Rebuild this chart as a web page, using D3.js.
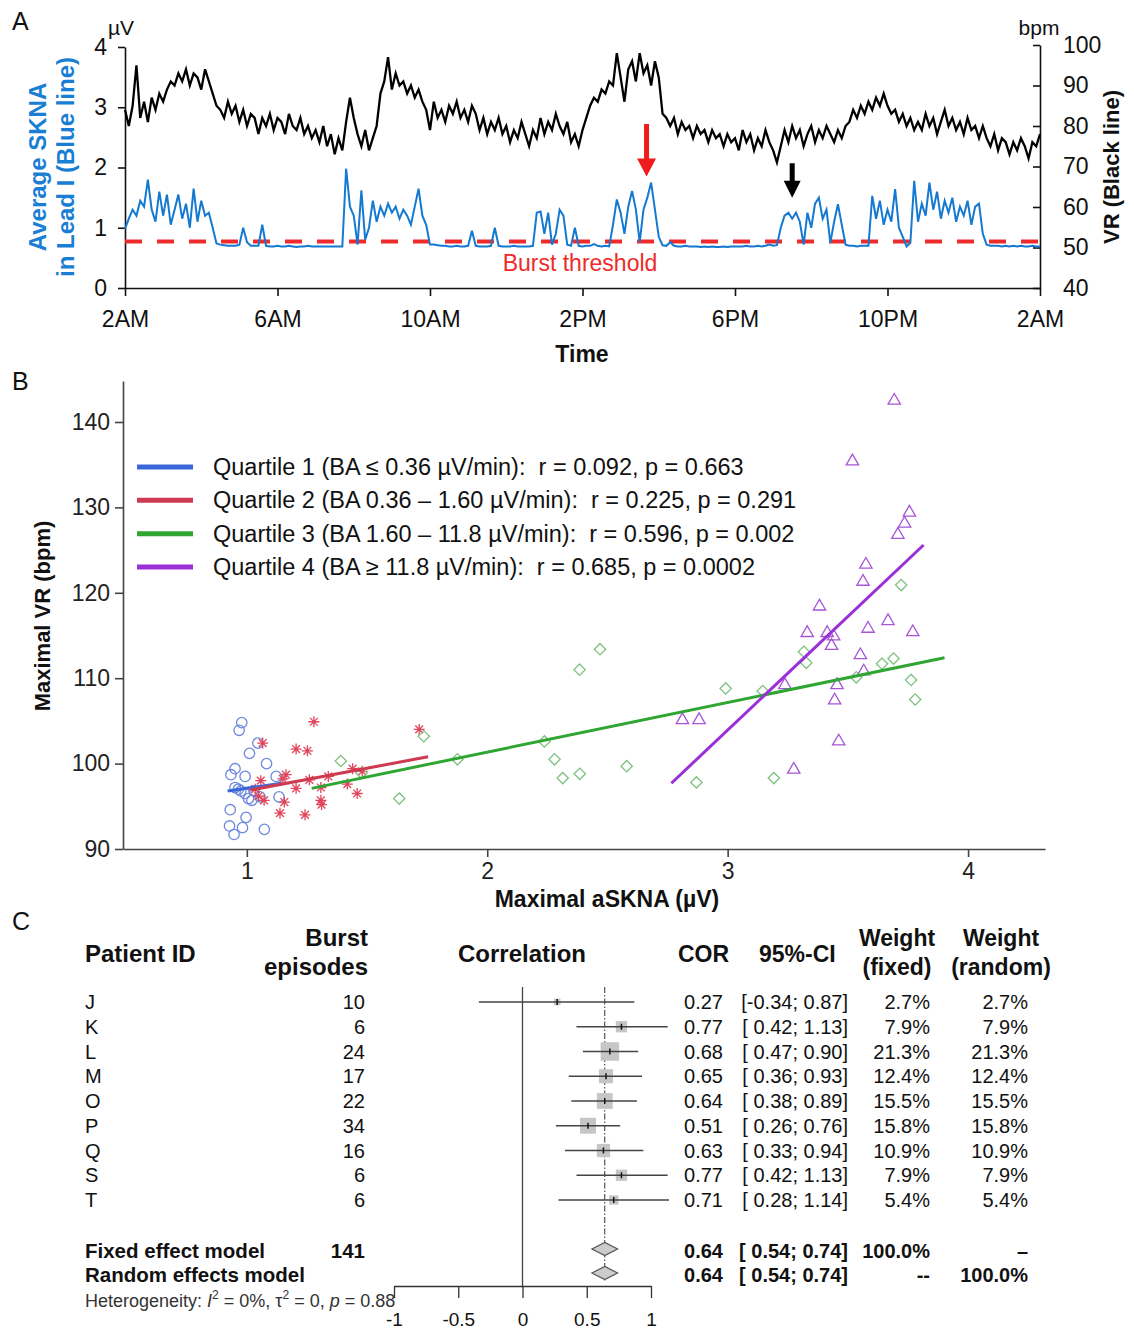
<!DOCTYPE html>
<html>
<head>
<meta charset="utf-8">
<script src="https://cdn.jsdelivr.net/npm/d3@7"></script>
<style>
body { margin: 0; background: #fff; }
svg { font-family: "Liberation Sans", Arial, sans-serif; }
.ax path, .ax line { stroke: #111; stroke-width: 1.6; fill: none; }
.ax text { fill: #111; font-size: 23px; }
.axb path, .axb line { stroke: #444; stroke-width: 1.6; fill: none; }
.axb text { fill: #222; font-size: 23px; }
.axc path, .axc line { stroke: #333; stroke-width: 1.3; fill: none; }
.axc text { fill: #111; font-size: 19px; }
</style>
</head>
<body>
<svg id="fig" width="1134" height="1335"></svg>
<script>
// ---------------- Panel A data (one reading every 6 min, 2AM -> 2AM) ----------------
var sampleStepHours = 0.1;
var timeTicks = [0, 4, 8, 12, 16, 20, 24];
var timeLabels = ["2AM", "6AM", "10AM", "2PM", "6PM", "10PM", "2AM"];
var burstThreshold = 0.77;

// ventricular rate, bpm (black line), one row per hour
var vrBpm = [
  84,80,85,95,82,86,81,87,84,88,
  86,89,91,90,93,91,94,90,93,92,
  89,94,91,88,85,84,82,86,83,85,
  81,84,80,83,82,78,82,80,83,79,
  82,81,78,83,80,79,82,78,80,77,
  79,76,80,75,78,73,77,74,81,87,
  82,78,75,79,74,77,80,88,91,97,
  89,93,90,91,88,90,87,89,86,84,
  79,86,82,84,81,85,83,86,82,84,
  81,85,83,79,82,78,81,79,82,78,
  80,76,79,77,81,78,75,79,77,82,
  78,81,79,83,80,78,81,76,78,75,
  79,82,85,87,86,89,88,91,90,98,
  92,86,94,96,91,98,93,95,90,96,
  92,83,82,80,82,78,81,79,80,77,
  80,78,79,76,79,77,78,75,78,76,
  77,74,79,76,78,74,77,75,79,76,
  74,71,75,79,76,80,77,79,75,78,
  80,76,79,77,80,78,76,79,77,80,
  81,84,82,85,83,86,84,87,85,88,
  85,83,84,81,83,80,82,79,81,79,
  83,80,82,78,81,84,80,82,79,81,
  78,82,79,80,77,80,77,75,78,74,
  77,76,73,76,74,77,75,72,76,75,
  78
];

// average SKNA in lead I, µV (blue line), one row per hour
var sknaUv = [
  0.98,1.15,1.30,1.20,1.45,1.35,1.80,1.30,1.10,1.60,
  1.20,1.55,1.05,1.30,1.55,1.15,1.40,1.00,1.65,1.10,
  1.45,1.20,1.25,1.00,0.74,0.72,0.71,0.70,0.70,0.70,
  0.72,1.00,0.76,0.70,0.70,0.70,1.05,0.70,0.69,0.69,
  0.70,0.69,0.69,0.70,0.69,0.68,0.69,0.69,0.70,0.69,
  0.69,0.69,0.69,0.69,0.69,0.69,0.69,0.69,1.98,1.35,
  1.20,0.72,1.62,0.80,1.00,1.45,1.10,1.35,1.20,1.40,
  1.25,1.35,1.15,1.30,1.20,1.05,1.35,1.65,1.20,1.05,
  0.72,0.72,0.71,0.70,0.70,0.69,0.69,0.70,0.69,0.69,
  0.70,0.95,0.70,0.69,0.69,0.69,0.70,1.00,0.70,0.69,
  0.69,0.69,0.70,0.69,0.69,0.69,0.69,0.70,1.25,1.27,
  0.90,1.25,0.72,0.90,1.30,1.20,0.72,0.70,1.00,0.70,
  0.69,0.70,0.70,0.73,0.70,0.69,0.70,0.69,1.05,1.47,
  1.25,0.90,1.35,1.61,1.30,0.76,1.30,1.50,1.75,1.30,
  0.85,0.71,0.70,0.76,0.70,0.69,0.69,0.70,0.69,0.69,
  0.69,0.68,0.69,0.68,0.69,0.68,0.68,0.69,0.68,0.69,
  0.69,0.69,0.69,0.70,0.69,0.69,0.70,0.69,0.70,0.72,
  0.70,0.71,1.00,1.20,1.25,1.15,1.25,1.10,0.72,1.25,
  1.00,1.40,1.50,1.15,1.30,0.75,1.10,1.39,1.05,0.72,
  0.70,0.70,0.69,0.70,0.70,0.70,1.53,1.15,1.45,1.05,
  1.30,1.10,1.64,1.00,0.85,0.69,0.75,1.78,1.10,1.40,
  1.20,1.75,1.30,1.60,1.15,1.45,1.25,1.50,1.10,1.35,
  1.20,1.45,1.05,1.35,1.40,0.90,0.72,0.70,0.70,0.70,
  0.69,0.70,0.69,0.70,0.69,0.70,0.69,0.69,0.70,0.69,
  0.69
];

// arrows: [hour, top µV, tip µV]
var redArrow = [13.68, 2.72, 1.85];
var blackArrow = [17.5, 2.07, 1.50];

// ---------------- Panel B data ----------------
var quartileLabels = [
  "Quartile 1 (BA \u2264 0.36 \u00b5V/min):  r = 0.092, p = 0.663",
  "Quartile 2 (BA 0.36 \u2013 1.60 \u00b5V/min):  r = 0.225, p = 0.291",
  "Quartile 3 (BA 1.60 \u2013 11.8 \u00b5V/min):  r = 0.596, p = 0.002",
  "Quartile 4 (BA \u2265 11.8 \u00b5V/min):  r = 0.685, p = 0.0002"
];
var lineColors = ["#3a68d8", "#cf3a50", "#2fa532", "#9b2fd8"];
var markColors = ["#6d89de", "#e0455c", "#7fc17f", "#a655d6"];

var q1Points = [[0.979,104.8],[0.968,103.9],[1.046,102.4],[1.011,101.2],[1.082,100.0],[0.951,99.4],
  [0.934,98.7],[0.993,98.5],[1.122,98.5],[0.951,97.2],[0.965,97.0],[0.993,96.5],[1.007,95.9],
  [1.021,95.7],[1.055,96.1],[1.134,96.1],[0.931,94.6],[0.997,93.7],[0.928,92.7],[0.982,92.5],
  [0.947,91.7],[1.073,92.3],[0.975,96.8],[1.030,96.8]];
var q2Points = [[1.279,104.9],[1.066,102.4],[1.205,101.7],[1.252,101.5],[1.163,98.7],[1.058,98.0],
  [1.150,98.2],[1.260,98.1],[1.205,97.1],[1.072,95.7],[1.156,95.5],[1.308,95.7],[1.311,95.2],
  [1.138,94.2],[1.242,94.0],[1.418,97.6],[1.459,96.5],[1.339,98.5],[1.440,99.4],[1.480,99.1],
  [1.717,104.0],[1.035,97.0],[1.049,96.2],[1.308,97.2]];
var q3Points = [[1.391,100.3],[1.477,98.9],[1.634,95.9],[1.736,103.2],[1.876,100.5],[2.238,102.6],
  [2.280,100.5],[2.314,98.3],[2.385,98.8],[2.384,111.0],[2.469,113.4],[2.580,99.7],[2.870,97.8],
  [2.992,108.8],[3.146,108.5],[3.192,98.3],[3.317,113.1],[3.327,111.8],[3.535,110.1],[3.642,111.7],
  [3.690,112.3],[3.722,120.9],[3.763,109.8],[3.780,107.5]];
var q4Points = [[3.693,142.5],[3.519,135.4],[3.756,129.4],[3.736,128.1],[3.708,126.8],[3.575,123.3],
  [3.563,121.3],[3.382,118.4],[3.584,115.8],[3.667,116.7],[3.770,115.4],[3.331,115.3],[3.414,115.3],
  [3.441,114.9],[3.432,113.8],[3.552,112.7],[3.566,110.8],[3.238,109.2],[3.455,109.2],[3.445,107.4],
  [2.812,105.1],[2.881,105.1],[3.462,102.6],[3.275,99.3]];
// regression segments [[x0,y0],[x1,y1]]
var fitLines = [
  [[0.92,96.8],[1.145,97.7]],
  [[1.014,96.9],[1.754,100.8]],
  [[1.270,97.1],[3.902,112.4]],
  [[2.766,97.7],[3.815,125.6]]
];

// ---------------- Panel C data ----------------
var patients = ["J","K","L","M","O","P","Q","S","T"];
var episodes = [10,6,24,17,22,34,16,6,6];
var cor = [0.27,0.77,0.68,0.65,0.64,0.51,0.63,0.77,0.71];
var ciLow = [-0.34,0.42,0.47,0.36,0.38,0.26,0.33,0.42,0.28];
var ciHigh = [0.87,1.13,0.90,0.93,0.89,0.76,0.94,1.13,1.14];
var weightFixed = [2.7,7.9,21.3,12.4,15.5,15.8,10.9,7.9,5.4];
var weightRandom = [2.7,7.9,21.3,12.4,15.5,15.8,10.9,7.9,5.4];
var pooledCor = 0.64, pooledLow = 0.54, pooledHigh = 0.74;
var corTicks = [-1, -0.5, 0, 0.5, 1];
var corTickLabels = ["-1", "-0.5", "0", "0.5", "1"];

var svg = d3.select("#fig");
svg.append("rect").attr("width", 1134).attr("height", 1335).attr("fill", "#fff");

function label(g, x, y, txt, size, opts) {
  opts = opts || {};
  return g.append("text").attr("x", x).attr("y", y).text(txt)
    .attr("font-size", size)
    .attr("font-weight", opts.bold ? "bold" : null)
    .attr("text-anchor", opts.anchor || "start")
    .attr("fill", opts.color || "#111")
    .style("white-space", "pre");
}
function styleAxis(g) {
  g.attr("font-size", null).attr("font-family", null);
}

// ================= Panel A =================
var xA = d3.scaleLinear().domain([0, 24]).range([125, 1040]);
var yA = d3.scaleLinear().domain([0, 4]).range([288, 47]);
var yA2 = d3.scaleLinear().domain([40, 100]).range([288, 45]);
var gA = svg.append("g");

gA.append("g").attr("class", "ax").attr("transform", "translate(0,288)")
  .call(d3.axisBottom(xA).tickValues(timeTicks).tickFormat(function(d, i) { return timeLabels[i]; })
    .tickSize(8).tickPadding(15).tickSizeOuter(0))
  .call(styleAxis);
gA.append("g").attr("class", "ax").attr("transform", "translate(125,0)")
  .call(d3.axisLeft(yA).tickValues([0,1,2,3,4]).tickFormat(d3.format("d")).tickSize(7).tickPadding(11).tickSizeOuter(0))
  .call(styleAxis);
gA.append("g").attr("class", "ax").attr("transform", "translate(1040,0)")
  .call(d3.axisRight(yA2).tickValues([40,50,60,70,80,90,100]).tickSizeInner(-7).tickSizeOuter(0).tickPadding(23))
  .call(styleAxis);

// burst threshold
gA.append("line")
  .attr("x1", xA(0)).attr("x2", xA(24))
  .attr("y1", yA(burstThreshold)).attr("y2", yA(burstThreshold))
  .attr("stroke", "#ee2a2a").attr("stroke-width", 4).attr("stroke-dasharray", "17,15");

gA.append("path").datum(vrBpm)
  .attr("fill", "none").attr("stroke", "#000").attr("stroke-width", 2.3).attr("stroke-linejoin", "miter")
  .attr("d", d3.line().x(function(d, i) { return xA(i * sampleStepHours); }).y(function(d) { return yA2(d); }));

gA.append("path").datum(sknaUv)
  .attr("fill", "none").attr("stroke", "#1479d0").attr("stroke-width", 2)
  .attr("d", d3.line().x(function(d, i) { return xA(i * sampleStepHours); }).y(function(d) { return yA(d); }));

function arrow(a, color, shaftW, headW, headL) {
  var x = xA(a[0]), y0 = yA(a[1]), y1 = yA(a[2]);
  var yh = y1 - headL;
  var p = d3.path();
  p.moveTo(x - shaftW / 2, y0); p.lineTo(x + shaftW / 2, y0); p.lineTo(x + shaftW / 2, yh);
  p.lineTo(x + headW / 2, yh); p.lineTo(x, y1); p.lineTo(x - headW / 2, yh);
  p.lineTo(x - shaftW / 2, yh); p.closePath();
  gA.append("path").attr("d", p.toString()).attr("fill", color);
}
arrow(redArrow, "#ee1c1c", 5, 19, 18);
arrow(blackArrow, "#000", 5, 17, 17);

label(gA, 580, 271, "Burst threshold", 23, { anchor: "middle", color: "#ee2a2a" });
label(gA, 582, 362, "Time", 23, { anchor: "middle", bold: true });
label(gA, 108, 35, "\u00b5V", 21);
label(gA, 1039, 35, "bpm", 21, { anchor: "middle" });
label(gA, 12, 30, "A", 25);
gA.append("text").attr("transform", "translate(46,167) rotate(-90)")
  .attr("text-anchor", "middle").attr("font-size", 24).attr("font-weight", "bold").attr("fill", "#1a7fd4")
  .selectAll("tspan").data(["Average SKNA", "in Lead I (Blue line)"]).enter().append("tspan")
  .attr("x", 0).attr("dy", function(d, i) { return i === 0 ? 0 : 28; }).text(function(d) { return d; });
gA.append("text").attr("transform", "translate(1119,167) rotate(-90)")
  .attr("text-anchor", "middle").attr("font-size", 22).attr("font-weight", "bold").attr("fill", "#111")
  .text("VR (Black line)");

// ================= Panel B =================
var xB = d3.scaleLinear().domain([0.485, 4.32]).range([123, 1045]);
var yB = d3.scaleLinear().domain([90, 144.8]).range([849, 381]);
var gB = svg.append("g");

gB.append("g").attr("class", "axb").attr("transform", "translate(0,849)")
  .call(d3.axisBottom(xB).tickValues([1,2,3,4]).tickFormat(d3.format("d")).tickSize(8).tickPadding(6).tickSizeOuter(0))
  .call(styleAxis);
gB.append("g").attr("class", "axb").attr("transform", "translate(123,0)")
  .call(d3.axisLeft(yB).tickValues([90,100,110,120,130,140]).tickSize(8).tickPadding(5).tickSizeOuter(0))
  .call(styleAxis);

label(gB, 12, 390, "B", 25);
label(gB, 607, 907, "Maximal aSKNA (\u00b5V)", 23, { anchor: "middle", bold: true });
gB.append("text").attr("transform", "translate(50,616) rotate(-90)")
  .attr("text-anchor", "middle").attr("font-size", 22).attr("font-weight", "bold").attr("fill", "#111")
  .text("Maximal VR (bpm)");

function asterisk(r) {
  var p = d3.path();
  for (var k = 0; k < 4; k++) {
    var a = k * Math.PI / 4;
    p.moveTo(-r * Math.cos(a), -r * Math.sin(a));
    p.lineTo(r * Math.cos(a), r * Math.sin(a));
  }
  return p.toString();
}
var symCircle = d3.symbol().type(d3.symbolCircle).size(85)();
var symSquare = d3.symbol().type(d3.symbolSquare).size(64)();
var symTriangle = d3.symbol().type(d3.symbolTriangle).size(66)();
var markShapes = [symCircle, asterisk(5.5), symSquare, symTriangle];
var markRot = [0, 0, 45, 0];

[q1Points, q2Points, q3Points, q4Points].forEach(function(pts, q) {
  gB.append("g").selectAll("path").data(pts).enter().append("path")
    .attr("d", markShapes[q])
    .attr("transform", function(d) { return "translate(" + xB(d[0]) + "," + yB(d[1]) + ") rotate(" + markRot[q] + ")"; })
    .attr("fill", "none").attr("stroke", markColors[q]).attr("stroke-width", 1.3);
});

fitLines.forEach(function(seg, q) {
  gB.append("line")
    .attr("x1", xB(seg[0][0])).attr("y1", yB(seg[0][1]))
    .attr("x2", xB(seg[1][0])).attr("y2", yB(seg[1][1]))
    .attr("stroke", lineColors[q]).attr("stroke-width", 3);
});

var legendRow = d3.scalePoint().domain(d3.range(4)).range([467, 567]);
quartileLabels.forEach(function(t, q) {
  var y = legendRow(q);
  gB.append("line").attr("x1", 137).attr("x2", 193).attr("y1", y).attr("y2", y)
    .attr("stroke", lineColors[q]).attr("stroke-width", 5);
  label(gB, 213, y + 8, t, 23.5);
});

// ================= Panel C =================
var gC = svg.append("g");
var xC = d3.scaleLinear().domain([-1, 1]).range([394, 651]);
var rowY = d3.scalePoint().domain(patients).range([1002, 1200]);
var boxSide = d3.scaleSqrt().domain([0, 21.3]).range([0, 18.5]);
var fixedY = 1249, randomY = 1273;

label(gC, 12, 930, "C", 25);
label(gC, 85, 962, "Patient ID", 24, { bold: true });
label(gC, 368, 946, "Burst", 24, { bold: true, anchor: "end" });
label(gC, 368, 975, "episodes", 24, { bold: true, anchor: "end" });
label(gC, 522, 962, "Correlation", 24, { bold: true, anchor: "middle" });
label(gC, 678, 962, "COR", 23, { bold: true });
label(gC, 759, 962, "95%-CI", 23, { bold: true });
label(gC, 897, 946, "Weight", 23, { bold: true, anchor: "middle" });
label(gC, 897, 975, "(fixed)", 23, { bold: true, anchor: "middle" });
label(gC, 1001, 946, "Weight", 23, { bold: true, anchor: "middle" });
label(gC, 1001, 975, "(random)", 23, { bold: true, anchor: "middle" });

// reference lines
gC.append("line").attr("x1", xC(0)).attr("x2", xC(0)).attr("y1", 987).attr("y2", 1287)
  .attr("stroke", "#444").attr("stroke-width", 1.3);
gC.append("line").attr("x1", xC(pooledCor)).attr("x2", xC(pooledCor)).attr("y1", 987).attr("y2", 1282)
  .attr("stroke", "#333").attr("stroke-width", 1).attr("stroke-dasharray", "6,2,1.5,2");

function fmtCI(lo, hi) {
  var a = lo < 0 ? lo.toFixed(2) : " " + lo.toFixed(2);
  return "[" + a + "; " + hi.toFixed(2) + "]";
}

patients.forEach(function(p, i) {
  var y = rowY(p);
  var s = boxSide(weightFixed[i]);
  gC.append("rect").attr("x", xC(cor[i]) - s / 2).attr("y", y - s / 2)
    .attr("width", s).attr("height", s).attr("fill", "#c6c6c6");
  gC.append("line").attr("x1", xC(ciLow[i])).attr("x2", xC(ciHigh[i])).attr("y1", y).attr("y2", y)
    .attr("stroke", "#444").attr("stroke-width", 1.3);
  gC.append("line").attr("x1", xC(cor[i])).attr("x2", xC(cor[i])).attr("y1", y - 3).attr("y2", y + 3)
    .attr("stroke", "#111").attr("stroke-width", 1.5);
  label(gC, 85, y + 7, p, 20);
  label(gC, 365, y + 7, String(episodes[i]), 20, { anchor: "end" });
  label(gC, 723, y + 7, cor[i].toFixed(2), 20, { anchor: "end" });
  label(gC, 848, y + 7, fmtCI(ciLow[i], ciHigh[i]), 20, { anchor: "end" });
  label(gC, 930, y + 7, weightFixed[i].toFixed(1) + "%", 20, { anchor: "end" });
  label(gC, 1028, y + 7, weightRandom[i].toFixed(1) + "%", 20, { anchor: "end" });
});

[fixedY, randomY].forEach(function(y) {
  gC.append("path")
    .attr("d", "M" + xC(pooledLow) + "," + y + "L" + xC(pooledCor) + "," + (y - 6.5) +
      "L" + xC(pooledHigh) + "," + y + "L" + xC(pooledCor) + "," + (y + 6.5) + "Z")
    .attr("fill", "#cccccc").attr("stroke", "#555").attr("stroke-width", 1.2);
});

var totalEpisodes = d3.sum(episodes);
label(gC, 85, fixedY + 9, "Fixed effect model", 20.5, { bold: true });
label(gC, 365, fixedY + 9, String(totalEpisodes), 20.5, { bold: true, anchor: "end" });
label(gC, 723, fixedY + 9, pooledCor.toFixed(2), 20, { bold: true, anchor: "end" });
label(gC, 848, fixedY + 9, fmtCI(pooledLow, pooledHigh), 20, { bold: true, anchor: "end" });
label(gC, 930, fixedY + 9, "100.0%", 20, { bold: true, anchor: "end" });
label(gC, 1028, fixedY + 9, "\u2013", 20, { bold: true, anchor: "end" });
label(gC, 85, randomY + 9, "Random effects model", 20.5, { bold: true });
label(gC, 723, randomY + 9, pooledCor.toFixed(2), 20, { bold: true, anchor: "end" });
label(gC, 848, randomY + 9, fmtCI(pooledLow, pooledHigh), 20, { bold: true, anchor: "end" });
label(gC, 930, randomY + 9, "--", 20, { bold: true, anchor: "end" });
label(gC, 1028, randomY + 9, "100.0%", 20, { bold: true, anchor: "end" });

var het = gC.append("text").attr("x", 85).attr("y", 1307).attr("font-size", 18).attr("fill", "#333");
het.append("tspan").text("Heterogeneity: ");
het.append("tspan").attr("font-style", "italic").text("I");
het.append("tspan").attr("dy", -8).attr("font-size", 12).text("2");
het.append("tspan").attr("dy", 8).text(" = 0%, \u03c4");
het.append("tspan").attr("dy", -8).attr("font-size", 12).text("2");
het.append("tspan").attr("dy", 8).text(" = 0, ");
het.append("tspan").attr("font-style", "italic").text("p");
het.append("tspan").text(" = 0.88");

gC.append("g").attr("class", "axc").attr("transform", "translate(0,1286)")
  .call(d3.axisBottom(xC).tickValues(corTicks).tickFormat(function(d, i) { return corTickLabels[i]; })
    .tickSize(12).tickPadding(15).tickSizeOuter(0))
  .call(styleAxis);
</script>
</body>
</html>
